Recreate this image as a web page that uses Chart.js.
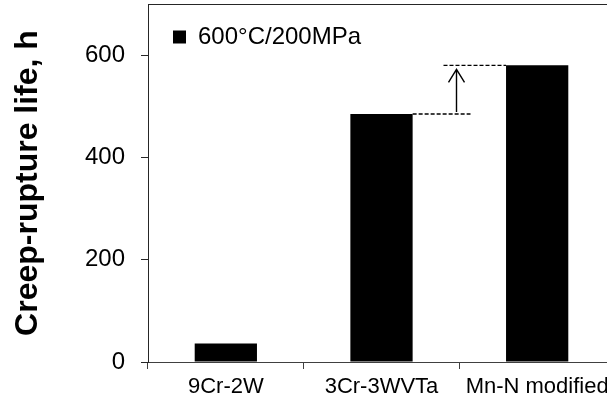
<!DOCTYPE html>
<html>
<head>
<meta charset="utf-8">
<script src="https://cdn.jsdelivr.net/npm/chart.js@4"></script>
<style>
  html, body { margin: 0; padding: 0; background: #fff; overflow: hidden; }
  #wrap { width: 607px; height: 402px; overflow: hidden; }
  #c { display: block; width: 615px; height: 402px; }
</style>
</head>
<body>
<div id="wrap"><canvas id="c" width="615" height="402"></canvas></div>
<script>
// Creep-rupture life of three steels at 600°C / 200 MPa
const categories = ['9Cr-2W', '3Cr-3WVTa', 'Mn-N modified'];
const lifeHours = [36, 485, 580];
const seriesLabel = '600°C/200MPa';
const yTicks = [0, 200, 400, 600];
const yMax = 700;
const axisTitle = 'Creep-rupture life, h';
// the improvement arrow goes from this bar up to the next one
const gainFrom = 1;
const gainTo = 2;

const FONT = 'Liberation Sans, Arial, sans-serif';
Chart.defaults.font.family = FONT;
Chart.defaults.color = '#000';

// Top edge of the plot frame and the dashed-line arrow between two bars
const frameAndGain = {
  id: 'frameAndGain',
  afterDatasetsDraw(chart) {
    const { ctx, chartArea: a, scales: { x, y } } = chart;
    const bars = chart.getDatasetMeta(0).data;
    ctx.save();
    ctx.strokeStyle = '#262626';
    ctx.lineWidth = 1;
    ctx.beginPath();
    ctx.moveTo(a.left, a.top + 0.5);
    ctx.lineTo(a.right, a.top + 0.5);
    ctx.stroke();

    const lowY = y.getPixelForValue(lifeHours[gainFrom]);
    const highY = y.getPixelForValue(lifeHours[gainTo]);
    const b1 = bars[gainFrom];
    const b2 = bars[gainTo];
    const ax = Math.round(x.getPixelForValue(gainFrom + 0.48)) + 0.5;

    ctx.strokeStyle = '#000';
    ctx.lineWidth = 1.4;
    ctx.setLineDash([4, 2]);
    ctx.beginPath();
    ctx.moveTo(b1.x + b1.width / 2, lowY);
    ctx.lineTo(ax + 14, lowY);
    ctx.moveTo(ax - 13, highY);
    ctx.lineTo(b2.x - b2.width / 2, highY);
    ctx.stroke();

    ctx.setLineDash([]);
    ctx.beginPath();
    ctx.moveTo(ax, lowY - 2);
    ctx.lineTo(ax, highY + 4);
    ctx.moveTo(ax - 8, highY + 17);
    ctx.lineTo(ax, highY + 4);
    ctx.lineTo(ax + 8, highY + 17);
    ctx.stroke();
    ctx.restore();
  }
};

new Chart(document.getElementById('c'), {
  type: 'bar',
  data: {
    labels: categories,
    datasets: [{
      label: seriesLabel,
      data: lifeHours,
      backgroundColor: '#000',
      borderWidth: 0,
      barPercentage: 0.4,
      categoryPercentage: 1.0
    }]
  },
  options: {
    responsive: false,
    animation: false,
    layout: { padding: { top: 4, right: 0, bottom: 0, left: 0 } },
    plugins: {
      legend: {
        position: 'chartArea',
        align: 'start',
        labels: {
          boxWidth: 13,
          boxHeight: 13,
          padding: 25,
          color: '#000',
          font: { family: FONT, size: 24 }
        }
      },
      tooltip: { enabled: false }
    },
    scales: {
      x: {
        grid: { display: true, drawOnChartArea: false, offset: true, tickLength: 7, color: '#404040' },
        border: { color: '#404040', width: 1 },
        ticks: {
          color: '#000',
          font: { family: FONT, size: 22 },
          autoSkip: false,
          maxRotation: 0,
          minRotation: 0,
          padding: 5
        },
        afterFit(s) { s.height = 40; s.paddingLeft = 0; s.paddingRight = 0; }
      },
      y: {
        min: 0,
        max: yMax,
        afterBuildTicks(s) { s.ticks = yTicks.map(v => ({ value: v })); },
        grid: { display: true, drawOnChartArea: false, tickLength: 7, color: '#262626' },
        border: { color: '#262626', width: 1 },
        ticks: { color: '#000', font: { family: FONT, size: 24 }, padding: 16 },
        title: {
          display: true,
          text: axisTitle,
          color: '#000',
          font: { family: FONT, size: 32, weight: 'bold' },
          padding: { top: 9, bottom: 0 }
        },
        afterFit(s) { s.width = 148; s.paddingTop = 0; s.paddingBottom = 0; }
      }
    }
  },
  plugins: [frameAndGain]
});
</script>
</body>
</html>
